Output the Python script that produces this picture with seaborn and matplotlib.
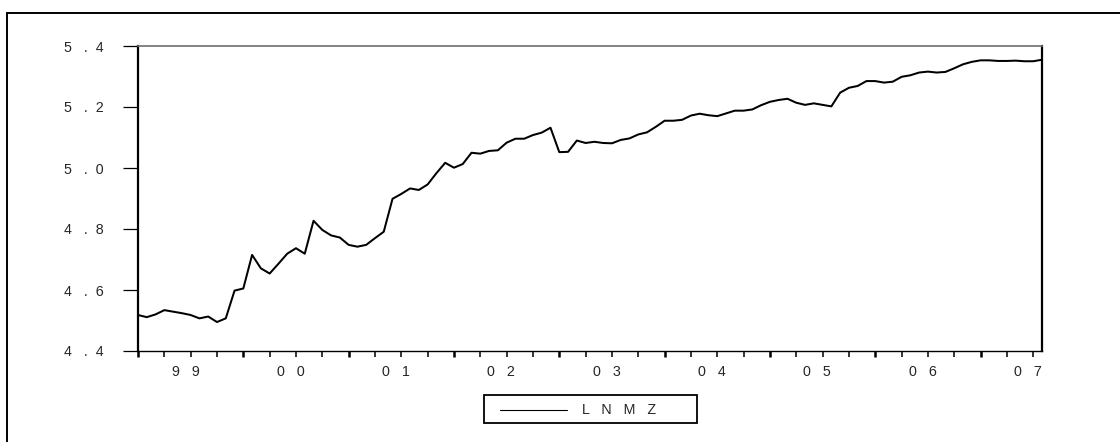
import numpy as np
import pandas as pd
import matplotlib
matplotlib.use("Agg")
import matplotlib.pyplot as plt
from matplotlib.lines import Line2D
from matplotlib.patches import Rectangle
import seaborn as sns

# Monthly log money series, 1999M01 - 2007M08
lnmz = [
    4.518, 4.511, 4.520, 4.534, 4.529, 4.524, 4.518, 4.507, 4.513, 4.495, 4.507, 4.598,
    4.605, 4.715, 4.671, 4.654, 4.686, 4.719, 4.737, 4.719, 4.827, 4.797, 4.779, 4.772,
    4.748, 4.742, 4.748, 4.770, 4.791, 4.899, 4.915, 4.933, 4.928, 4.946, 4.983, 5.017,
    5.001, 5.013, 5.050, 5.047, 5.056, 5.058, 5.083, 5.096, 5.096, 5.108, 5.116, 5.132,
    5.052, 5.053, 5.090, 5.082, 5.086, 5.082, 5.081, 5.092, 5.097, 5.110, 5.117, 5.135,
    5.155, 5.155, 5.158, 5.172, 5.178, 5.173, 5.170, 5.179, 5.188, 5.188, 5.192, 5.206,
    5.217, 5.223, 5.227, 5.214, 5.207, 5.212, 5.207, 5.202, 5.247, 5.263, 5.269, 5.285,
    5.285, 5.280, 5.283, 5.299, 5.304, 5.313, 5.316, 5.313, 5.315, 5.327, 5.340, 5.348,
    5.353, 5.353, 5.351, 5.351, 5.352, 5.350, 5.350, 5.355,
]
years = ["99", "00", "01", "02", "03", "04", "05", "06", "07"]
y_ticks = [4.4, 4.6, 4.8, 5.0, 5.2, 5.4]
series_name = "LNMZ"

df = pd.DataFrame({"t": np.arange(len(lnmz)), "LNMZ": lnmz})

sns.set_style("white")
plt.rcParams["font.family"] = ["Liberation Sans", "DejaVu Sans"]
plt.rcParams["font.size"] = 10

W, H, DPI = 1120, 442, 100
fig = plt.figure(figsize=(W / DPI, H / DPI), dpi=DPI)
fig.patch.set_facecolor("white")


def px(x0, y0, w, h):
    return [x0 / W, 1 - (y0 + h) / H, w / W, h / H]


ax = fig.add_axes(px(138, 46, 904, 305))
sns.lineplot(data=df, x="t", y="LNMZ", ax=ax, color="black", linewidth=1.45)

n = len(lnmz)
ax.set_xlim(0, n - 1)
ax.set_ylim(y_ticks[0], y_ticks[-1])
ax.set_xlabel("")
ax.set_ylabel("")

# y axis: spaced digits, long outward ticks
ax.set_yticks(y_ticks)
ax.set_yticklabels(["{}   .  {}".format(*f"{v:.1f}".split(".")) for v in y_ticks])
ax.tick_params(axis="y", direction="out", length=10.8, width=0.9, pad=14,
               left=True, color="black", labelsize=10.3)

# x axis: thick ticks at year starts, thin ticks at quarters
year_starts = np.arange(0, n, 12)
quarters = [q for q in range(0, n, 3) if q % 12 != 0]
ax.set_xticks(year_starts)
ax.set_xticklabels([""] * len(year_starts))
ax.set_xticks(quarters, minor=True)
ax.tick_params(axis="x", which="major", direction="out", length=4.5, width=1.8,
               bottom=True, color="black")
ax.tick_params(axis="x", which="minor", direction="out", length=4.0, width=1.1,
               bottom=True, color="black")

# year labels sit near mid-year
lab = ax.secondary_xaxis("bottom")
lab.set_xticks(year_starts + 5.4)
lab.set_xticklabels(["   ".join(list(y)) for y in years])
lab.tick_params(axis="x", length=0, pad=10, labelsize=10.3)
lab.spines["bottom"].set_visible(False)

for side, col, lw in [("left", "black", 1.6), ("right", "black", 1.6),
                      ("bottom", "black", 1.0), ("top", "#6e6e6e", 1.2)]:
    ax.spines[side].set_visible(True)
    ax.spines[side].set_color(col)
    ax.spines[side].set_linewidth(lw)

# legend box below the plot
fig.add_artist(Rectangle((484 / W, 1 - 423 / H), 213 / W, 28 / H,
                         transform=fig.transFigure, fill=False,
                         edgecolor="black", linewidth=1.3))
fig.add_artist(Line2D([500 / W, 567 / W], [1 - 410 / H, 1 - 410 / H],
                      transform=fig.transFigure, color="black", linewidth=0.8))
fig.text(582 / W, 1 - 410 / H, "   ".join(list(series_name)),
         ha="left", va="center", fontsize=10.3)

# outer frame (top and left edges)
fig.add_artist(Line2D([7 / W, 1.0], [1 - 13 / H, 1 - 13 / H],
                      transform=fig.transFigure, color="black", linewidth=1.4))
fig.add_artist(Line2D([7 / W, 7 / W], [1 - 13 / H, 0.0],
                      transform=fig.transFigure, color="black", linewidth=1.4))

fig.savefig("out.png", dpi=DPI, facecolor="white")
